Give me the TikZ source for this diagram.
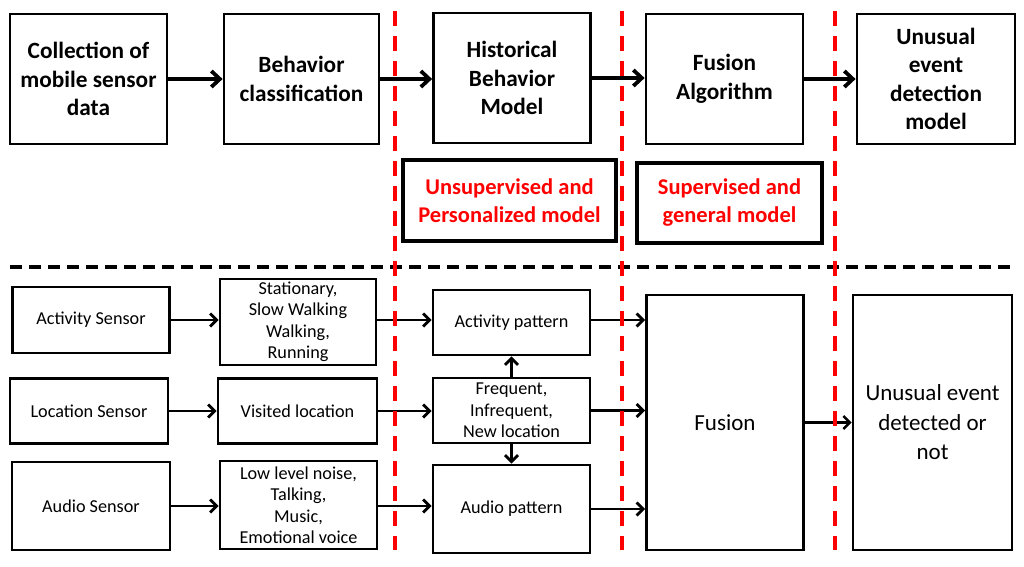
\documentclass[tikz,border=0pt]{standalone}
\usepackage{fontspec}
\setmainfont{Carlito}
\usetikzlibrary{arrows.meta}

\tikzset{
  box/.style={draw, line width=2.8pt, align=center, inner sep=0pt,
    font=\fontsize{18.2}{21.5}\selectfont},
  topbox/.style={box, minimum width=157pt, minimum height=130pt,
    font=\fontsize{23.3}{28.6}\selectfont\bfseries},
  redbox/.style={draw, line width=4.5pt, align=center, text=red,
    font=\fontsize{22.5}{28}\selectfont\bfseries},
  bigarr/.style={line width=3.8pt, -{Straight Barb[length=8.5pt,width=16pt]}},
  arr/.style={line width=2.8pt, -{Straight Barb[length=6.5pt,width=13pt]}},
}

\begin{document}
\begin{tikzpicture}[x=1pt, y=-1pt]
\useasboundingbox (0,0) rectangle (1024,566);

% top row
\node[topbox] (collect) at (88.5,79) {Collection of\\mobile sensor\\data};
\node[topbox, minimum width=155pt] (classify) at (301.5,79) {Behavior\\classification};
\node[topbox] (history) at (512,78) {Historical\\Behavior\\Model};
\node[topbox] (fusalg) at (724.5,79) {Fusion\\Algorithm};
\node[topbox, minimum width=158pt] (detmodel) at (936,79) {Unusual\\event\\detection\\model};

\draw[bigarr] (collect) -- (classify);
\draw[bigarr] (classify) -- (classify -| history.west);
\draw[bigarr] (history) -- (history -| fusalg.west);
\draw[bigarr] (fusalg) -- (fusalg -| detmodel.west);

\node[redbox, minimum width=213pt, minimum height=81pt] (unsup) at (509.5,200.5)
  {Unsupervised and\\Personalized model};
\node[redbox, minimum width=185pt, minimum height=80pt] (sup) at (729.5,203)
  {Supervised and\\general model};

% bottom row
\node[box, minimum width=157pt, minimum height=66pt] (actsens) at (91,320) {Activity Sensor};
\node[box, minimum width=158pt, minimum height=65pt] (locsens) at (89,411) {Location Sensor};
\node[box, minimum width=158pt, minimum height=88pt] (audsens) at (91,506) {Audio Sensor};

\node[box, minimum width=156pt, minimum height=86pt] (actcls) at (298,322)
  {Stationary,\\Slow Walking\\Walking,\\Running};
\node[box, minimum width=159pt, minimum height=65pt] (loccls) at (297.5,411) {Visited location};
\node[box, minimum width=157pt, minimum height=88pt] (audcls) at (298.5,505)
  {Low level noise,\\Talking,\\Music,\\Emotional voice};

\node[box, minimum width=157pt, minimum height=65pt] (actpat) at (511.5,322.5) {Activity pattern};
\node[box, minimum width=157pt, minimum height=65pt] (locpat) at (511.5,410.5)
  {Frequent,\\Infrequent,\\New location};
\node[box, minimum width=157pt, minimum height=88pt] (audpat) at (511.5,509) {Audio pattern};

\node[box, minimum width=157pt, minimum height=255pt, font=\fontsize{23}{29.5}\selectfont]
  (fusion) at (725,422.5) {Fusion};
\node[box, minimum width=159pt, minimum height=255pt, font=\fontsize{23}{29.5}\selectfont]
  (result) at (932.5,422.5) {Unusual event\\detected or\\not};

\draw[arr] (actsens) -- (actsens -| actcls.west);
\draw[arr] (locsens) -- (locsens -| loccls.west);
\draw[arr] (audsens) -- (audsens -| audcls.west);
\draw[arr] (actcls.east |- 0,320) -- (actpat.west |- 0,320);
\draw[arr] (loccls) -- (loccls -| locpat.west);
\draw[arr] (audcls.east |- 0,506) -- (audpat.west |- 0,506);
\draw[arr] (locpat) -- (actpat);
\draw[arr] (locpat) -- (audpat);
\draw[arr] (actpat.east |- 0,320) -- (fusion.west |- 0,320);
\draw[arr] (locpat) -- (locpat -| fusion.west);
\draw[arr] (audpat) -- (audpat -| fusion.west);
\draw[arr, line width=2.4pt] (fusion) -- (result);

% separators
\draw[line width=3.5pt, dash pattern=on 12pt off 7pt] (10,267) -- (1015,267);
\foreach \sx in {395,622,835}
  \draw[red, line width=4pt, dash pattern=on 15pt off 10pt] (\sx,11) -- (\sx,550);
\end{tikzpicture}
\end{document}
